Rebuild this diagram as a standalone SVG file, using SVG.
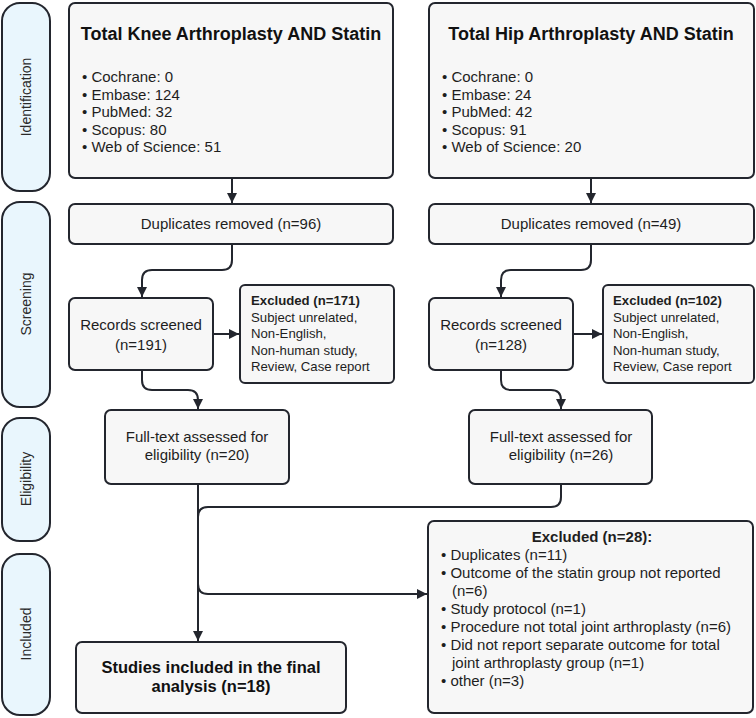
<svg xmlns="http://www.w3.org/2000/svg" width="756" height="718" viewBox="0 0 756 718">
<defs>
<marker id="arr" viewBox="0 0 10 10" refX="10" refY="5" markerWidth="10" markerHeight="10" markerUnits="userSpaceOnUse" orient="auto">
<path d="M0,0 L10,5 L0,10 z" fill="#23262e"/>
</marker>
<style>
.side{fill:#e9f6fd;stroke:#23262e;stroke-width:2}
.box{fill:#f7f7f7;stroke:#23262e;stroke-width:2}
.st{font-family:"Liberation Sans",Arial,sans-serif;font-size:14px;fill:#2a2a2a;text-anchor:middle}
.t{font-family:"Liberation Sans",Arial,sans-serif;font-size:15px;fill:#1e1e1e}
.s{font-family:"Liberation Sans",Arial,sans-serif;font-size:13.2px;fill:#1e1e1e}
.c{text-anchor:middle}
.b{font-weight:bold}
.h{font-family:"Liberation Sans",Arial,sans-serif;font-size:18px;font-weight:bold;fill:#111;text-anchor:middle}
.h2{font-family:"Liberation Sans",Arial,sans-serif;font-size:16.5px;font-weight:bold;fill:#111;text-anchor:middle}
.ln{fill:none;stroke:#23262e;stroke-width:2}
</style>
</defs>
<rect width="756" height="718" fill="#ffffff"/>

<g id="stage-identification"><rect class="side" x="2" y="3" width="48" height="188" rx="18"/><text class="st" transform="translate(31,97) rotate(-90)">Identification</text></g>
<g id="stage-screening"><rect class="side" x="2" y="202" width="48" height="205" rx="18"/><text class="st" transform="translate(31,304) rotate(-90)">Screening</text></g>
<g id="stage-eligibility"><rect class="side" x="2" y="418" width="48" height="123" rx="18"/><text class="st" transform="translate(31,479) rotate(-90)">Eligibility</text></g>
<g id="stage-included"><rect class="side" x="2" y="554" width="48" height="161" rx="18"/><text class="st" transform="translate(31,634) rotate(-90)">Included</text></g>

<g id="tka-search"><rect class="box" x="69" y="3" width="324" height="175" rx="6"/>
<text class="h" x="231" y="40">Total Knee Arthroplasty AND Statin</text>
<text class="t" x="82" y="82">• Cochrane: 0</text>
<text class="t" x="82" y="99.5">• Embase: 124</text>
<text class="t" x="82" y="117">• PubMed: 32</text>
<text class="t" x="82" y="134.5">• Scopus: 80</text>
<text class="t" x="82" y="152">• Web of Science: 51</text>
</g>
<g id="tha-search"><rect class="box" x="429" y="3" width="325" height="175" rx="6"/>
<text class="h" x="591" y="40">Total Hip Arthroplasty AND Statin</text>
<text class="t" x="442" y="82">• Cochrane: 0</text>
<text class="t" x="442" y="99.5">• Embase: 24</text>
<text class="t" x="442" y="117">• PubMed: 42</text>
<text class="t" x="442" y="134.5">• Scopus: 91</text>
<text class="t" x="442" y="152">• Web of Science: 20</text>
</g>

<g id="tka-duplicates"><rect class="box" x="69" y="204" width="324" height="40" rx="6"/><text class="t c" x="231" y="229">Duplicates removed (n=96)</text></g>
<g id="tha-duplicates"><rect class="box" x="429" y="204" width="325" height="40" rx="6"/><text class="t c" x="591" y="229">Duplicates removed (n=49)</text></g>

<g id="tka-screened"><rect class="box" x="69" y="298" width="144" height="72" rx="6"/><text class="t c" x="141" y="330">Records screened</text><text class="t c" x="141" y="350">(n=191)</text></g>
<g id="tha-screened"><rect class="box" x="429" y="298" width="144" height="72" rx="6"/><text class="t c" x="501" y="330">Records screened</text><text class="t c" x="501" y="350">(n=128)</text></g>

<g id="tka-excluded"><rect class="box" x="240" y="285" width="154" height="98" rx="5"/>
<text class="s b" x="251" y="305">Excluded (n=171)</text>
<text class="s" x="251" y="321.5">Subject unrelated,</text>
<text class="s" x="251" y="338">Non-English,</text>
<text class="s" x="251" y="354.5">Non-human study,</text>
<text class="s" x="251" y="371">Review, Case report</text>
</g>
<g id="tha-excluded"><rect class="box" x="603" y="285" width="151" height="98" rx="5"/>
<text class="s b" x="613" y="305">Excluded (n=102)</text>
<text class="s" x="613" y="321.5">Subject unrelated,</text>
<text class="s" x="613" y="338">Non-English,</text>
<text class="s" x="613" y="354.5">Non-human study,</text>
<text class="s" x="613" y="371">Review, Case report</text>
</g>

<g id="tka-fulltext"><rect class="box" x="105" y="410" width="184" height="74" rx="6"/><text class="t c" x="197" y="442">Full-text assessed for</text><text class="t c" x="197" y="460">eligibility (n=20)</text></g>
<g id="tha-fulltext"><rect class="box" x="469" y="410" width="183" height="74" rx="6"/><text class="t c" x="561" y="442">Full-text assessed for</text><text class="t c" x="561" y="460">eligibility (n=26)</text></g>

<g id="fulltext-excluded"><rect class="box" x="428" y="521" width="325" height="192" rx="6"/>
<text class="t c b" x="592" y="542">Excluded (n=28):</text>
<text class="t" x="441" y="560">• Duplicates (n=11)</text>
<text class="t" x="441" y="578">• Outcome of the statin group not reported</text>
<text class="t" x="452" y="596">(n=6)</text>
<text class="t" x="441" y="614">• Study protocol (n=1)</text>
<text class="t" x="441" y="632">• Procedure not total joint arthroplasty (n=6)</text>
<text class="t" x="441" y="650">• Did not report separate outcome for total</text>
<text class="t" x="452" y="668">joint arthroplasty group (n=1)</text>
<text class="t" x="441" y="686">• other (n=3)</text>
</g>

<g id="included"><rect class="box" x="76" y="642" width="270" height="71" rx="6"/><text class="h2" x="211" y="673">Studies included in the final</text><text class="h2" x="211" y="692">analysis (n=18)</text></g>

<g id="connectors">
<path class="ln" d="M232,178 V203" marker-end="url(#arr)"/>
<path class="ln" d="M591,178 V203" marker-end="url(#arr)"/>
<path class="ln" d="M232,244 V260 Q232,270 222,270 H152 Q142,270 142,280 V297" marker-end="url(#arr)"/>
<path class="ln" d="M591,244 V260 Q591,270 581,270 H511 Q501,270 501,280 V297" marker-end="url(#arr)"/>
<path class="ln" d="M213,334 H239" marker-end="url(#arr)"/>
<path class="ln" d="M573,334 H602" marker-end="url(#arr)"/>
<path class="ln" d="M142,370 V380 Q142,390 152,390 H188 Q198,390 198,400 V409" marker-end="url(#arr)"/>
<path class="ln" d="M501,370 V380 Q501,390 511,390 H551 Q561,390 561,400 V409" marker-end="url(#arr)"/>
<path class="ln" d="M198,484 V641" marker-end="url(#arr)"/>
<path class="ln" d="M561,484 V497 Q561,507 551,507 H208 Q198,507 198,517"/>
<path class="ln" d="M198,584 Q198,594 208,594 H427" marker-end="url(#arr)"/>
</g>
</svg>
